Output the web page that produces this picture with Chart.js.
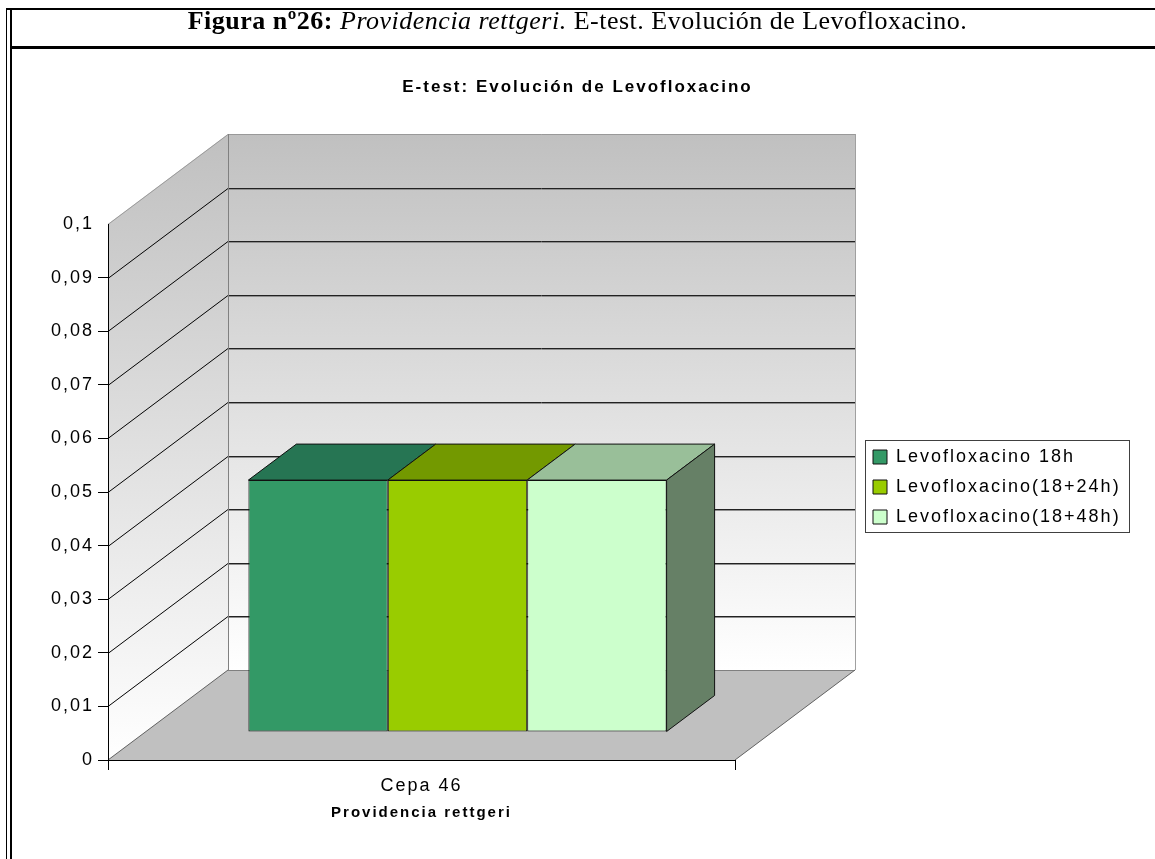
<!DOCTYPE html>
<html>
<head>
<meta charset="utf-8">
<script src="https://cdn.jsdelivr.net/npm/chart.js@4.4.1/dist/chart.umd.min.js"></script>
<style>
  html, body { margin: 0; padding: 0; background: #fff; }
  #page { position: relative; width: 1155px; height: 859px; overflow: hidden; }
  #levoChart { position: absolute; left: 0; top: 0; }
  .rule { position: absolute; background: #000; }
  #heading {
    position: absolute; left: 0; top: 3px; width: 1155px; text-align: center;
    font-family: 'Times New Roman', 'Liberation Serif', serif; font-size: 26px;
    letter-spacing: 0.5px; line-height: 36px; color: #000; white-space: nowrap;
  }
</style>
</head>
<body>
<div id="page">
  <canvas id="levoChart" width="1155" height="859"></canvas>
  <div id="heading"><b>Figura nº26:</b> <i>Providencia rettgeri.</i> E-test. Evolución de Levofloxacino.</div>
  <div class="rule" style="left:6px; top:8px; width:1149px; height:2px"></div>
  <div class="rule" style="left:10px; top:46px; width:1145px; height:3px"></div>
  <div class="rule" style="left:6px; top:8px; width:1px; height:851px"></div>
  <div class="rule" style="left:10px; top:8px; width:2px; height:851px"></div>
</div>
<script>
// Chart data
const categories = ['Cepa 46'];
const seriesNames = ['Levofloxacino 18h', 'Levofloxacino(18+24h)', 'Levofloxacino(18+48h)'];
const levo18h = [0.047];
const levo24h = [0.047];
const levo48h = [0.047];
const yMin = 0;
const yMax = 0.1;
const yStep = 0.01;

// Colours (front face, top face, side face)
const frontColors = ['#339966', '#99cc00', '#ccffcc'];
const topColors = ['#267553', '#739900', '#99bf99'];
const sideColor = '#668066';

// 3D look: offsets of the back wall and of the bars
const DEPTH = { x: 120, y: -90 };
const BAR_SHIFT = { x: 36, y: -28 };
const BAR_DEPTH = { x: 48, y: -36 };

const FONT = "Arial, 'Liberation Sans', sans-serif";
Chart.defaults.font.family = FONT;
Chart.defaults.color = '#000';

function polygon(ctx, pts, fill, stroke) {
    ctx.beginPath();
    ctx.moveTo(pts[0][0], pts[0][1]);
    for (let i = 1; i < pts.length; i++) ctx.lineTo(pts[i][0], pts[i][1]);
    ctx.closePath();
    if (fill) { ctx.fillStyle = fill; ctx.fill(); }
    if (stroke) { ctx.strokeStyle = stroke; ctx.lineWidth = 1; ctx.stroke(); }
}

function line(ctx, x1, y1, x2, y2, color) {
    ctx.beginPath();
    ctx.moveTo(x1, y1);
    ctx.lineTo(x2, y2);
    ctx.strokeStyle = color;
    ctx.lineWidth = 1;
    ctx.stroke();
}

const box3d = {
    id: 'box3d',
    beforeUpdate(chart) {
        chart.ctx.letterSpacing = '2px';
    },
    afterLayout(chart) {
        // title centred on the whole page, legend next to the back wall
        const t = chart.titleBlock;
        if (t) { t.left = 0; t.right = chart.width; t.width = chart.width; }
        const lg = chart.legend;
        if (lg) {
            const left = chart.chartArea.right + DEPTH.x + 6;
            lg.left = left;
            lg.right = chart.width;
            lg.width = lg.right - left;
            lg.top = 436;
            lg.height = 200;
            lg.bottom = lg.top + lg.height;
        }
    },
    beforeDraw(chart) {
        const { ctx, scales: { x, y } } = chart;
        ctx.letterSpacing = '2px';
        const L = x.left, R = x.right;
        const y0 = y.getPixelForValue(yMin), y1 = y.getPixelForValue(yMax);
        const dx = DEPTH.x, dy = DEPTH.y;

        ctx.save();
        // back wall
        const gBack = ctx.createLinearGradient(0, y1 + dy, 0, y0 + dy);
        gBack.addColorStop(0, '#c0c0c0');
        gBack.addColorStop(1, '#ffffff');
        ctx.fillStyle = gBack;
        ctx.fillRect(L + dx, y1 + dy, R - L, y0 - y1);

        // side wall
        const gSide = ctx.createLinearGradient(0, y1 + dy, 0, y0);
        gSide.addColorStop(0, '#c0c0c0');
        gSide.addColorStop(1, '#ffffff');
        polygon(ctx, [[L, y0], [L, y1], [L + dx, y1 + dy], [L + dx, y0 + dy]], gSide);

        // floor
        polygon(ctx, [[L, y0], [R, y0], [R + dx, y0 + dy], [L + dx, y0 + dy]], '#c0c0c0');
        line(ctx, L + dx, Math.round(y0 + dy) + 0.5, R + dx, Math.round(y0 + dy) + 0.5, '#808080');
        line(ctx, R, y0, R + dx, y0 + dy, '#606060');
        line(ctx, L, y0, L + dx, y0 + dy, '#606060');

        // gridlines on both walls
        y.ticks.forEach(tk => {
            if (tk.value <= yMin) return;
            const py = Math.round(y.getPixelForValue(tk.value)) + 0.5;
            const top = tk.value >= yMax - 1e-9;
            const col = top ? '#999999' : '#000000';
            line(ctx, L, py, L + dx, py + dy, col);
            line(ctx, L + dx, py + dy, R + dx, py + dy, top ? '#999999' : '#222222');
            if (!top) line(ctx, L + dx, py + dy + 1, R + dx, py + dy + 1, '#909090');
        });

        // wall edges
        line(ctx, Math.round(L + dx) + 0.5, y1 + dy, Math.round(L + dx) + 0.5, y0 + dy, '#808080');
        line(ctx, Math.round(R + dx) + 0.5, y1 + dy, Math.round(R + dx) + 0.5, y0 + dy, '#a0a0a0');
        ctx.restore();
    },
    beforeDatasetsDraw(chart) {
        chart.ctx.save();
        chart.ctx.translate(BAR_SHIFT.x, BAR_SHIFT.y);
    },
    afterDatasetsDraw(chart) {
        const ctx = chart.ctx;
        ctx.restore();
        ctx.save();
        const n = chart.data.datasets.length;
        chart.data.datasets.forEach((ds, i) => {
            chart.getDatasetMeta(i).data.forEach(el => {
                const p = el.getProps(['x', 'y', 'base', 'width'], true);
                const l = p.x - p.width / 2 + BAR_SHIFT.x;
                const r = p.x + p.width / 2 + BAR_SHIFT.x;
                const t = p.y + BAR_SHIFT.y;
                const b = p.base + BAR_SHIFT.y;
                polygon(ctx, [[l, t], [r, t], [r + BAR_DEPTH.x, t + BAR_DEPTH.y], [l + BAR_DEPTH.x, t + BAR_DEPTH.y]],
                    topColors[i], '#111111');
                if (i === n - 1) {
                    polygon(ctx, [[r, t], [r + BAR_DEPTH.x, t + BAR_DEPTH.y], [r + BAR_DEPTH.x, b + BAR_DEPTH.y], [r, b]],
                        sideColor, '#111111');
                }
            });
        });
        ctx.restore();
    },
    afterDraw(chart) {
        // frame round the legend
        const lg = chart.legend;
        if (!lg || !lg.legendHitBoxes) return;
        const ctx = chart.ctx;
        const lab = lg.options.labels;
        const pad = lab.padding;
        const itemH = lab.font.size;
        const maxW = Math.max(...lg.legendHitBoxes.map(h => h.width));
        const rows = lg.legendItems.length;
        const x0 = Math.round(lg.left + pad - 8) + 0.5;
        const x1 = Math.round(lg.left + pad + maxW + 8) + 0.5;
        const yT = Math.round(lg.top + pad - 8) + 0.5;
        const yB = Math.round(lg.top + pad + rows * (itemH + pad) - pad + 6) + 0.5;
        ctx.save();
        ctx.strokeStyle = '#404040';
        ctx.lineWidth = 1;
        ctx.strokeRect(x0, yT, x1 - x0, yB - yT);
        ctx.restore();
    }
};

function makeSet(i, values) {
    return {
        label: seriesNames[i],
        data: values,
        backgroundColor: frontColors[i],
        borderColor: '#111111',
        borderWidth: 1,
        borderSkipped: false,
        categoryPercentage: 0.667,
        barPercentage: 1.0
    };
}

const ctx = document.getElementById('levoChart').getContext('2d');
const chart = new Chart(ctx, {
    type: 'bar',
    data: {
        labels: categories,
        datasets: [makeSet(0, levo18h), makeSet(1, levo24h), makeSet(2, levo48h)]
    },
    options: {
        responsive: false,
        animation: false,
        layout: { padding: { top: 0, bottom: 0, left: 0, right: 320 } },
        scales: {
            x: {
                afterFit: s => { s.height = 99; },
                grid: { drawOnChartArea: false, tickLength: 10, color: '#000' },
                border: { display: true, color: '#000', width: 1 },
                ticks: { font: { size: 18 }, color: '#000', padding: 5 },
                title: {
                    display: true,
                    text: 'Providencia rettgeri',
                    font: { size: 15, weight: 'bold' },
                    color: '#000',
                    padding: { top: 0, bottom: 37 }
                }
            },
            y: {
                min: yMin,
                max: yMax,
                afterFit: s => { s.width = 108; },
                grid: {
                    drawOnChartArea: false,
                    tickLength: 10,
                    color: c => (c.tick && c.tick.value >= yMax - 1e-9) ? 'rgba(0,0,0,0)' : '#000'
                },
                border: { display: true, color: '#000', width: 1 },
                ticks: {
                    stepSize: yStep,
                    font: { size: 18 },
                    color: '#000',
                    padding: 4,
                    callback: v => String(Math.round(v * 100) / 100).replace('.', ',')
                }
            }
        },
        plugins: {
            title: {
                display: true,
                text: 'E-test: Evolución de Levofloxacino',
                font: { size: 17, weight: 'bold' },
                color: '#000',
                padding: { top: 77, bottom: 126.6 }
            },
            legend: {
                position: 'right',
                align: 'start',
                maxWidth: 100,
                labels: {
                    font: { size: 18 },
                    color: '#000',
                    boxWidth: 14,
                    boxHeight: 14,
                    padding: 12
                }
            },
            tooltip: { enabled: false }
        }
    },
    plugins: [box3d]
});
</script>
</body>
</html>
